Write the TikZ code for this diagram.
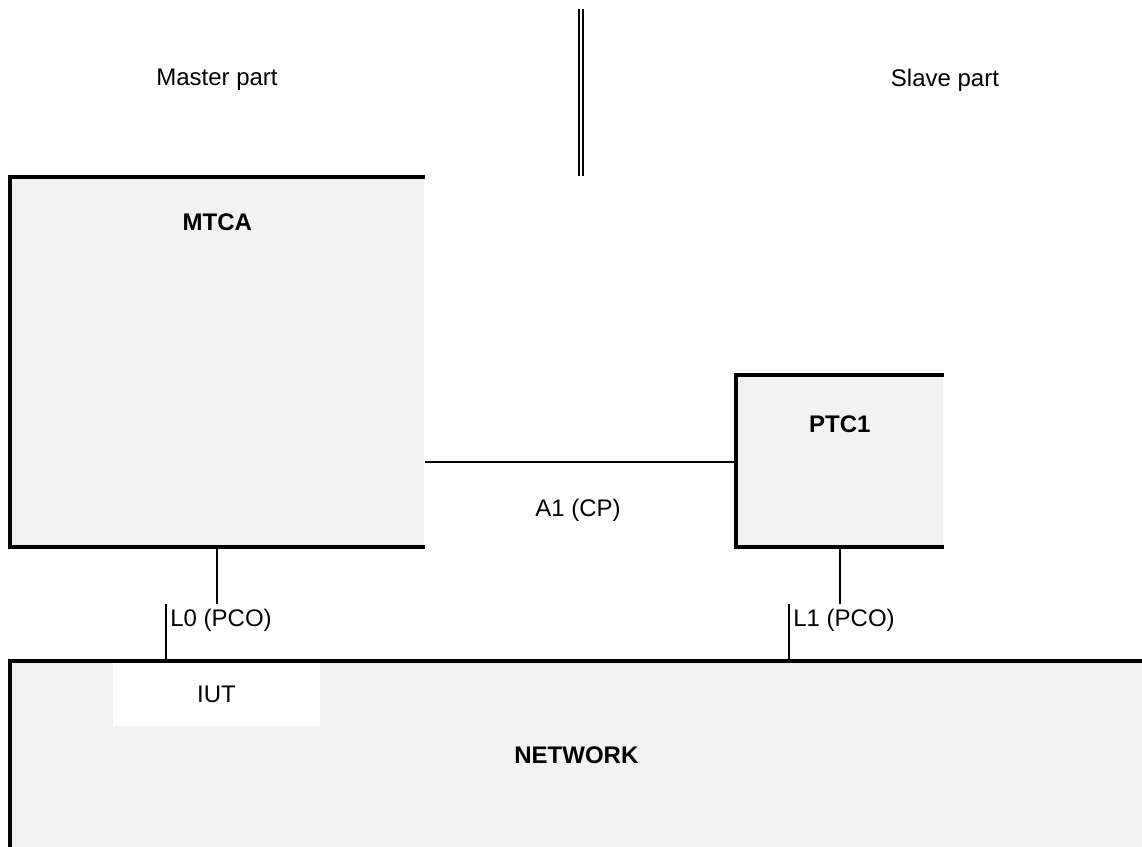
\documentclass[tikz,border=0pt]{standalone}
\usepackage{fontspec}
\setmainfont{Liberation Sans}
\usetikzlibrary{positioning,calc}
\definecolor{boxgray}{HTML}{F2F2F2}
\newcommand{\diagfont}{\fontsize{12}{14}\selectfont}

\begin{document}
\begin{tikzpicture}[x=0.5pt,y=-0.5pt,
    box/.style={fill=boxgray, inner sep=0pt, anchor=north west},
    border/.style={line width=2pt},
    wire/.style={line width=1pt},
    txt/.style={font=\diagfont},
    title/.style={font=\diagfont\bfseries},
    pco/.style={font=\diagfont, anchor=west, inner sep=2pt}]
\useasboundingbox (0,0) rectangle (1142,847);

% parts
\node[txt] (master) at (217,80) {Master part};
\node[txt] (slave) at (945,80) {Slave part};
\coordinate (divtop) at (581,9);
\coordinate (divbot) at (581,176);
\draw[double, double distance=1pt, line width=1pt] (divtop) -- (divbot);

% boxes
\node[box, minimum width=207pt, minimum height=184.5pt] (mtca) at (10,177) {};
\draw[border] (mtca.north east) -- (mtca.north west) -- (mtca.south west) -- (mtca.south east);
\node[title] at ([yshift=-22.5pt]mtca.north) {MTCA};

\node[box, minimum width=103.5pt, minimum height=85.5pt] (ptc1) at (736,375) {};
\draw[border] (ptc1.north east) -- (ptc1.north west) -- (ptc1.south west) -- (ptc1.south east);
\node[title] at ([yshift=-24.5pt]ptc1.north) {PTC1};

\node[box, minimum width=566pt, minimum height=93pt] (net) at (10,661) {};
\draw[border] (net.north east) -- (net.north west) -- (net.south west);
\node[title] at ([yshift=-47pt]net.north) {NETWORK};
\node[txt, fill=white, minimum width=103.5pt, minimum height=31.5pt, inner sep=0pt] (iut) at (216.5,694.5) {IUT};

% connections
\draw[wire] ([yshift=-0.75pt]ptc1.west) -- ([yshift=-0.75pt]ptc1.west -| mtca.east);
\node[txt] (a1) at (578,510) {A1 (CP)};

\node[pco] (l0) at (166,620) {L0 (PCO)};
\draw[wire] (mtca.south) -- (mtca.south |- l0.north);
\draw[wire] (l0.north west) -- (l0.north west |- net.north);

\node[pco] (l1) at (789,620) {L1 (PCO)};
\draw[wire] (ptc1.south) -- (ptc1.south |- l1.north);
\draw[wire] (l1.north west) -- (l1.north west |- net.north);
\end{tikzpicture}
\end{document}
